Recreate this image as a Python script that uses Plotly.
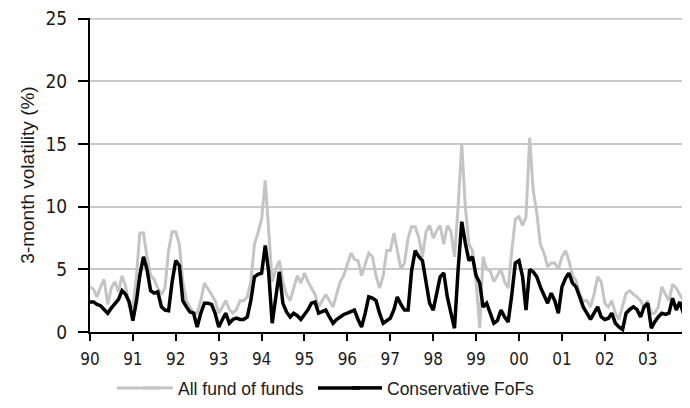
import pandas as pd
import plotly.graph_objects as go

months = pd.date_range("1990-01-01", "2003-12-01", freq="MS")

conservative_fofs = [
    2.4, 2.4, 2.2, 2.1, 1.8, 1.5, 1.9, 2.3, 2.6, 3.3, 3.0, 2.4,
    0.9, 2.5, 4.5, 6.0, 5.0, 3.3, 3.1, 3.2, 2.0, 1.75, 1.7, 4.0,
    5.7, 5.3, 2.5, 2.0, 1.6, 1.5, 0.4, 1.5, 2.3, 2.3, 2.2, 1.5,
    0.4, 1.0, 1.5, 0.7, 1.0, 1.1, 1.0, 1.0, 1.2, 2.5, 4.4, 4.6,
    4.7, 6.9, 4.9, 0.7, 3.0, 4.8, 2.3, 1.6, 1.2, 1.5, 1.3, 1.0,
    1.4, 1.8, 2.3, 2.4, 1.5, 1.6, 1.75, 1.2, 0.7, 1.0, 1.2, 1.4,
    1.5, 1.6, 1.75, 1.0, 0.4, 1.5, 2.8, 2.7, 2.5, 1.5, 0.7, 0.9,
    1.1, 1.8, 2.8, 2.2, 1.75, 1.75, 4.9, 6.5, 6.0, 5.7, 3.9, 2.3,
    1.75, 3.0, 4.4, 4.7, 2.8, 1.5, 0.3, 5.0, 8.8, 7.1, 5.7, 6.0,
    4.5, 3.9, 2.0, 2.3, 1.5, 0.7, 0.9, 1.75, 1.2, 0.8, 3.0, 5.5,
    5.7, 4.4, 1.75, 5.0, 4.8, 4.4, 3.6, 3.0, 2.3, 3.1, 2.5, 1.5,
    3.6, 4.3, 4.7, 3.9, 3.6, 2.8, 2.0, 1.5, 1.0, 1.5, 2.0, 1.2,
    1.0, 1.1, 1.5, 0.7, 0.4, 0.2, 1.5, 1.8, 2.0, 1.8, 1.2, 2.0,
    2.3, 0.3, 0.8, 1.2, 1.5, 1.4, 1.5, 2.7, 1.75, 2.4, 1.5, 1.0,
]

all_fund_of_funds = [
    3.6, 3.4, 2.8, 3.6, 4.2, 2.2, 3.5, 4.0, 3.2, 4.5, 3.6, 2.0,
    2.0, 4.5, 7.9, 7.9, 6.0, 4.5, 4.2, 3.5, 3.0, 3.5, 6.5, 8.0,
    8.0, 7.0, 4.0, 2.5, 2.0, 1.5, 1.5, 2.5, 3.9, 3.5, 3.0, 2.5,
    1.5, 2.0, 2.5, 1.8, 1.5, 1.8, 2.5, 2.5, 2.8, 4.0, 7.0, 7.9,
    9.0, 12.1, 8.0, 4.0, 5.0, 5.7, 4.0, 3.0, 2.5, 3.5, 4.5, 3.9,
    4.7, 4.0, 3.5, 3.0, 2.0, 2.5, 3.0, 2.5, 2.0, 3.0, 4.0, 4.5,
    5.5, 6.3, 5.8, 5.7, 4.5, 5.5, 6.3, 6.0, 4.5, 3.5, 4.5, 6.5,
    6.5, 7.9, 6.6, 5.0, 5.5, 7.5, 8.4, 8.4, 7.5, 6.0, 8.0, 8.5,
    7.5, 8.1, 8.5, 7.0, 8.5, 8.0, 6.0, 10.0, 15.0, 10.0, 7.0, 6.5,
    4.0, 0.3, 6.0, 5.0, 4.9, 4.0, 4.5, 5.0, 4.0, 3.5, 6.5, 9.0,
    9.2, 8.5, 9.2, 15.5, 11.3, 9.5, 7.0, 6.3, 5.2, 5.5, 5.5, 5.0,
    6.0, 6.5, 5.7, 4.5, 4.1, 3.0, 2.5, 2.5, 2.0, 3.0, 4.4, 4.0,
    2.3, 2.0, 2.5, 1.5, 1.0, 2.0, 3.1, 3.3, 3.0, 2.8, 2.5, 2.0,
    2.5, 1.5, 1.5, 2.0, 3.6, 3.0, 2.5, 3.8, 3.5, 3.0, 2.5, 2.0,
]

year_ticks = pd.date_range("1990-01-01", "2003-01-01", freq="YS")
year_labels = ["90", "91", "92", "93", "94", "95", "96", "97", "98", "99",
               "00", "01", "02", "03"]
y_ticks = [0, 5, 10, 15, 20, 25]

NARROW = "DejaVu Sans Condensed, Liberation Sans Narrow, Liberation Sans, Arial, sans-serif"
REGULAR = "Liberation Sans, Arial, sans-serif"

GRAY = "#c4c4c4"
GRID = "#c8c8c8"

fig = go.Figure()
fig.add_trace(go.Scatter(
    x=months, y=all_fund_of_funds, mode="lines", name="All fund of funds",
    line=dict(color=GRAY, width=3),
))
fig.add_trace(go.Scatter(
    x=months, y=conservative_fofs, mode="lines", name="Conservative FoFs",
    line=dict(color="#000000", width=3.5),
))

# page body has an 8px margin, so the figure is sized to fit the window
W, H = 682, 400
L, R, T, B = 82, 2, 10, 76
plot_w = W - L - R
plot_h = H - T - B

def px_x(sx):
    return (sx - 8 - L) / plot_w

def px_y(sy):
    return (H - B - (sy - 8)) / plot_h

legend_y = px_y(388)

# top gridline at the last y tick (plotly drops it at the plot edge)
fig.add_shape(type="line", xref="paper", yref="y",
              x0=0, x1=1, y0=y_ticks[-1], y1=y_ticks[-1],
              line=dict(color=GRID, width=2), layer="below")

# longer legend keys, as in the original
fig.add_shape(type="line", xref="paper", yref="paper",
              x0=px_x(117), x1=px_x(160), y0=legend_y, y1=legend_y,
              line=dict(color=GRAY, width=3))
fig.add_shape(type="line", xref="paper", yref="paper",
              x0=px_x(318), x1=px_x(360), y0=legend_y, y1=legend_y,
              line=dict(color="black", width=3.5))

fig.update_layout(
    width=W, height=H,
    margin=dict(l=L, r=R, t=T, b=B, autoexpand=False),
    paper_bgcolor="white", plot_bgcolor="white",
    font=dict(family=REGULAR, size=18, color="#1a1a1a"),
    showlegend=True,
    legend=dict(orientation="h", x=px_x(138), xanchor="left", y=legend_y,
                yanchor="middle", font=dict(family=REGULAR, size=17.5, color="#1a1a1a"),
                bgcolor="rgba(0,0,0,0)", entrywidth=164, tracegroupgap=0),
    xaxis=dict(
        range=["1990-01-01", "2003-12-10"],
        tickvals=year_ticks, ticktext=year_labels,
        ticks="outside", ticklen=7, tickwidth=2, tickcolor="black",
        showline=True, linecolor="black", linewidth=2,
        showgrid=False, zeroline=False, automargin=False,
        ticklabelstandoff=4, ticklabeloverflow="allow",
        tickfont=dict(family=NARROW, size=17),
    ),
    yaxis=dict(
        range=[0, 25.05], tickvals=y_ticks,
        ticks="outside", ticklen=10, tickwidth=2, tickcolor="black",
        showline=True, linecolor="black", linewidth=2,
        showgrid=True, gridcolor=GRID, gridwidth=2,
        zeroline=False, automargin=False,
        ticklabelstandoff=7, ticklabeloverflow="allow",
        title=dict(text="3-month volatility (%)",
                   font=dict(family=REGULAR, size=19), standoff=6),
        tickfont=dict(family=NARROW, size=19),
    ),
)

fig.write_html("out.html")
